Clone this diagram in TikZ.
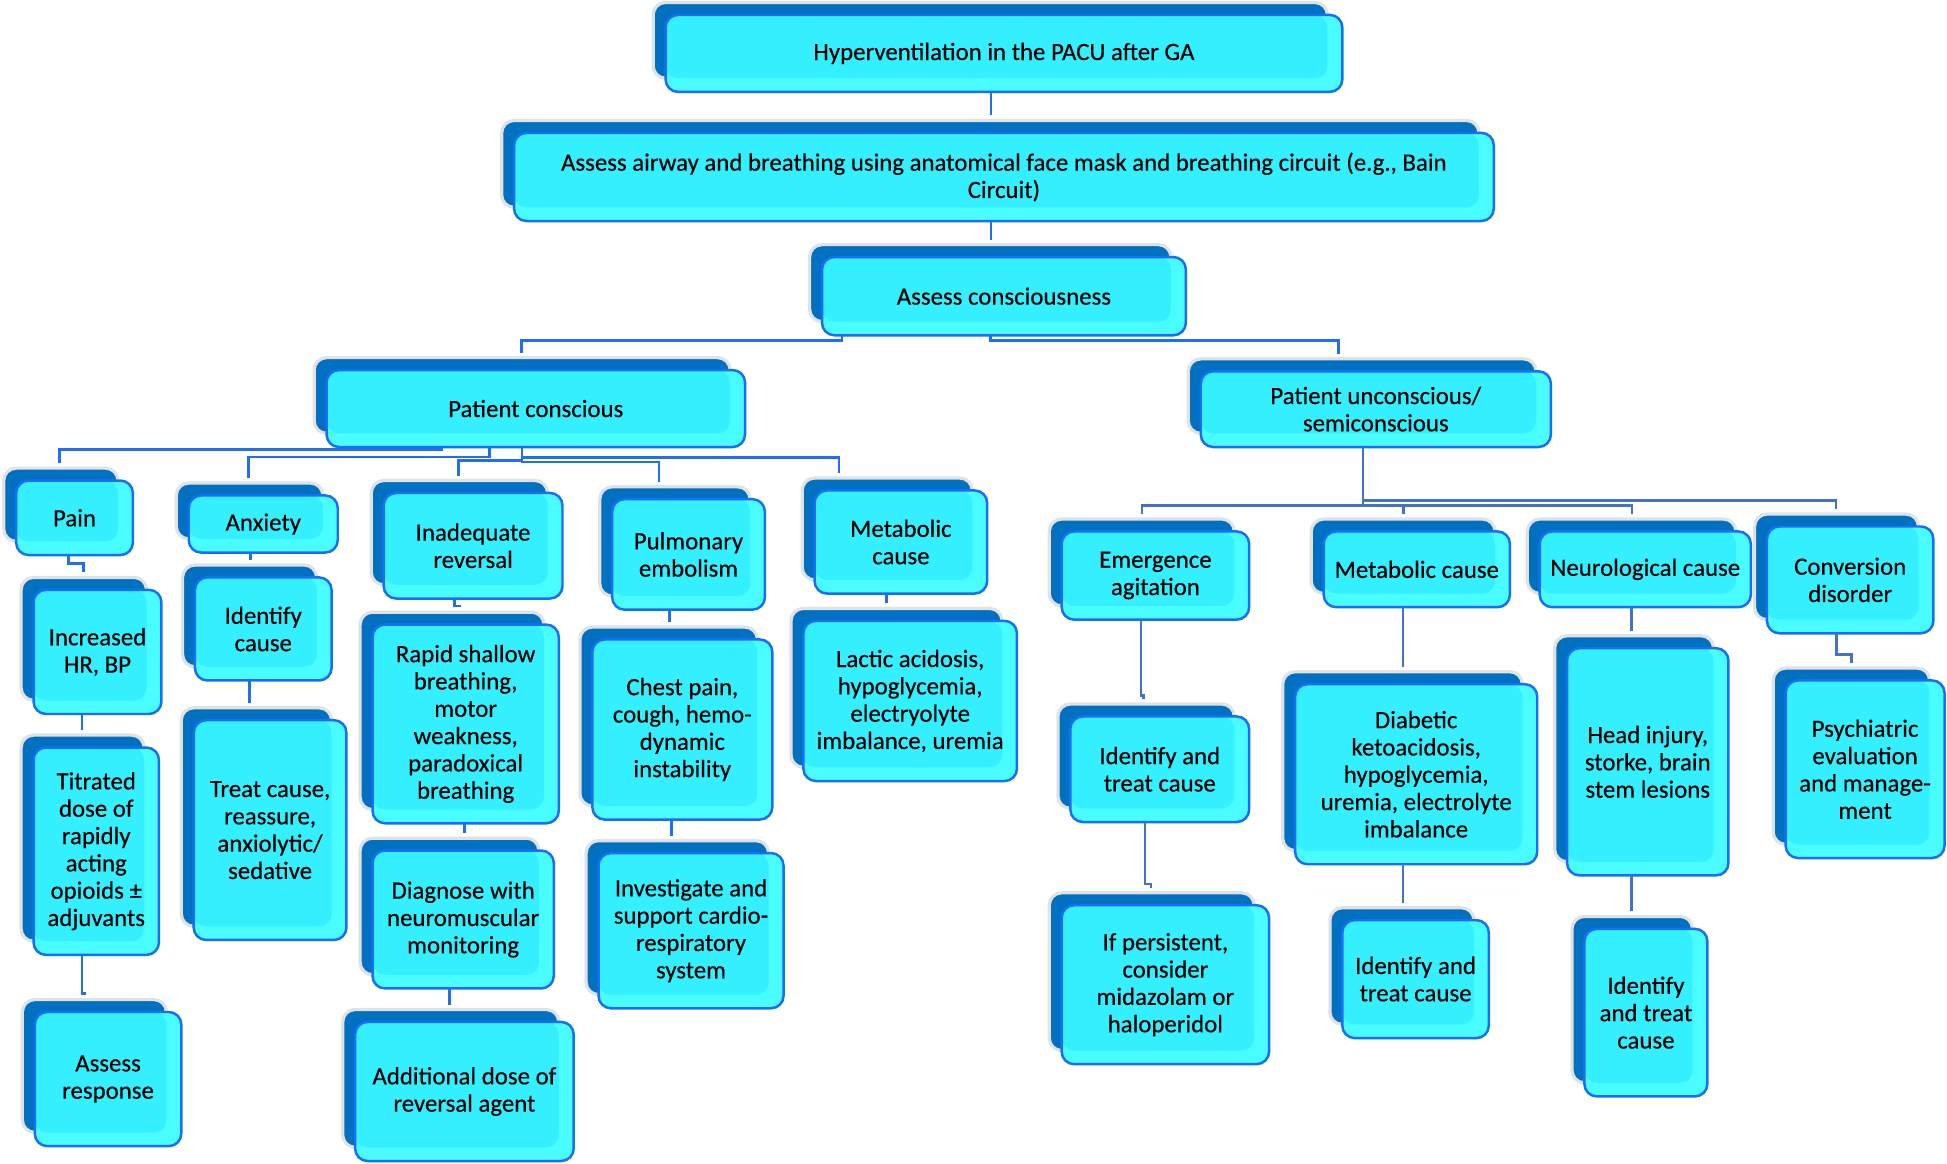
\documentclass[tikz,border=0pt]{standalone}
\usepackage{fontspec}
\setmainfont{Carlito}[FakeBold=0.35]
\definecolor{backc}{HTML}{0070C0}
\definecolor{frontc}{HTML}{34F0FF}
\definecolor{lightc}{HTML}{48FCFF}
\definecolor{borderc}{HTML}{1A6EF5}
\definecolor{lineL}{HTML}{1F6FEF}
\definecolor{lineR}{HTML}{4472C4}
\definecolor{glow}{HTML}{E2E2E2}
\tikzset{
  backbox/.style={draw=glow, line width=1.3pt, fill=backc, rounded corners=5pt, inner sep=0pt, outer sep=0pt},
  frontbox/.style={draw=borderc, line width=1pt, rounded corners=5pt, align=center, inner sep=0pt, outer sep=0pt, font=\fontsize{10}{11}\selectfont},
  connL/.style={draw=lineL, line width=1.1pt, shorten >=2pt},
  connR/.style={draw=lineR, line width=1pt, shorten >=2pt},
}
\newcommand\bx[6]{%
  \node[backbox, minimum width={(#4-#2-2)*0.5pt}, minimum height={(#5-#3-1)*0.5pt}] (#1b) at ({(#2+#4)/2-11},{(#3+#5)/2-10.5}) {};
  \fill[lightc, rounded corners=5pt] (#2,#3) rectangle (#4,#5);
  \fill[frontc, rounded corners=5pt] (#2,#3) rectangle ({#4-12},{#5-11});
  \node[frontbox, minimum width={(#4-#2)*0.5pt}, minimum height={(#5-#3)*0.5pt}] (#1) at ({(#2+#4)/2},{(#3+#5)/2}) {#6};
}
\begin{document}
\begin{tikzpicture}[x=0.5pt, y=-0.5pt]
\fill[white] (0,0) rectangle (1568,937);
\useasboundingbox (0,0) rectangle (1568,937);
% top chain
\bx{hyp}{536}{12}{1081}{74}{Hyperventilation in the PACU after GA}
\bx{air}{414}{107}{1203}{178}{Assess airway and breathing using anatomical face mask and breathing circuit (e.g., Bain\\Circuit)}
\bx{con}{662}{207}{955}{270}{Assess consciousness}
\bx{pc}{263}{298}{600}{360}{Patient conscious}
\bx{pu}{967}{299}{1249}{360}{Patient unconscious/\\semiconscious}
% left branches
\bx{pain}{13}{387}{107}{447}{Pain}
\bx{inc}{27}{475}{130}{575}{Increased\\HR, BP}
\bx{tit}{27}{602}{128}{769}{Titrated\\dose of\\rapidly\\acting\\opioids ±\\adjuvants}
\bx{ass}{28}{815}{146}{923}{Assess\\response}
\bx{anx}{152}{399}{272}{445}{Anxiety}
\bx{idc}{157}{465}{267}{548}{Identify\\cause}
\bx{treat}{156}{580}{279}{757}{Treat cause,\\reassure,\\anxiolytic/\\sedative}
\bx{inad}{309}{397}{453}{482}{Inadequate\\reversal}
\bx{rapid}{300}{503}{450}{663}{Rapid shallow\\breathing,\\motor\\weakness,\\paradoxical\\breathing}
\bx{diag}{300}{685}{446}{796}{Diagnose with\\neuromuscular\\monitoring}
\bx{add}{286}{823}{462}{935}{Additional dose of\\reversal agent}
\bx{pulm}{493}{402}{616}{491}{Pulmonary\\embolism}
\bx{chest}{477}{515}{622}{660}{Chest pain,\\cough, hemo-\\dynamic\\instability}
\bx{inv}{482}{687}{631}{812}{Investigate and\\support cardio-\\respiratory\\system}
\bx{metL}{656}{395}{795}{478}{Metabolic\\cause}
\bx{lac}{647}{500}{819}{629}{Lactic acidosis,\\hypoglycemia,\\electryolyte\\imbalance, uremia}
% right branches
\bx{em}{855}{428}{1006}{499}{Emergence\\agitation}
\bx{idE}{862}{577}{1006}{662}{Identify and\\treat cause}
\bx{ifp}{855}{729}{1022}{857}{If persistent,\\consider\\midazolam or\\haloperidol}
\bx{metR}{1066}{428}{1216}{489}{Metabolic cause}
\bx{diab}{1043}{551}{1238}{696}{Diabetic\\ketoacidosis,\\hypoglycemia,\\uremia, electrolyte\\imbalance}
\bx{idM}{1081}{741}{1199}{836}{Identify and\\treat cause}
\bx{neu}{1240}{428}{1410}{489}{Neurological cause}
\bx{head}{1262}{522}{1392}{705}{Head injury,\\storke, brain\\stem lesions}
\bx{idN}{1276}{748}{1375}{883}{Identify\\and treat\\cause}
\bx{conv}{1423}{424}{1557}{510}{Conversion\\disorder}
\bx{psy}{1438}{548}{1566}{691}{Psychiatric\\evaluation\\and manage-\\ment}
% connectors
\draw[connL] (hyp.south -| 798,0) -- (798,0 |- airb.north);
\draw[connL] (air.south -| 798,0) -- (798,0 |- conb.north);
\draw[connL] (con.south -| 678,0) |- (420,274) -- (420,0 |- pcb.north);
\draw[connL] (con.south -| 797.5,0) |- (1077.7,274.3) -- (1077.7,0 |- pub.north);
\draw[connL] (pc.south -| 356,0) |- (48,362) -- (48,0 |- painb.north);
\draw[connL] (pc.south -| 394,0) |- (200.3,368) -- (200.3,0 |- anxb.north);
\draw[connL] (pc.south -| 420.4,0) |- (369.5,371) -- (369.5,0 |- inadb.north);
\draw[connL] (pc.south -| 420.4,0) |- (530.7,372) -- (530.7,0 |- pulmb.north);
\draw[connL] (pc.south -| 420.4,0) |- (675.6,368.7) -- (675.6,0 |- metLb.north);
\draw[connL] (pain.south -| 55,0) |- (67,453.7) -- (67,0 |- incb.north);
\draw[connL] (inc.south -| 66,0) -- (66,0 |- titb.north);
\draw[connL] (tit.south -| 66,0) |- (68,800) -- (68,0 |- assb.north);
\draw[connL] (anx.south -| 202,0) -- (202,0 |- idcb.north);
\draw[connL] (idc.south -| 201,0) -- (201,0 |- treatb.north);
\draw[connL] (inad.south -| 366,0) |- (370,488) -- (370,0 |- rapidb.north);
\draw[connL] (rapid.south -| 374,0) -- (374,0 |- diagb.north);
\draw[connL] (diag.south -| 362,0) -- (362,0 |- addb.north);
\draw[connL] (pulm.south -| 539,0) -- (539,0 |- chestb.north);
\draw[connL] (chest.south -| 541,0) -- (541,0 |- invb.north);
\draw[connL] (metL.south -| 714,0) -- (714,0 |- lacb.north);
\draw[connR] (pu.south -| 1097.5,0) |- (919.6,407) -- (919.6,0 |- emb.north);
\draw[connR] (pu.south -| 1097.5,0) |- (1130.4,407) -- (1130.4,0 |- metRb.north);
\draw[connR] (pu.south -| 1097.5,0) |- (1314.4,407) -- (1314.4,0 |- neub.north);
\draw[connR] (pu.south -| 1097.5,0) |- (1478.6,403.2) -- (1478.6,0 |- convb.north);
\draw[connR] (em.south -| 919,0) |- (921,560) -- (921,0 |- idEb.north);
\draw[connR] (idE.south -| 922,0) |- (927,712) -- (927,0 |- ifpb.north);
\draw[connR] (metR.south -| 1130,0) -- (1130,0 |- diabb.north);
\draw[connR] (diab.south -| 1130,0) -- (1130,0 |- idMb.north);
\draw[connR] (neu.south -| 1314,0) -- (1314,0 |- headb.north);
\draw[connR] (head.south -| 1314,0) -- (1314,0 |- idNb.north);
\draw[connR] (conv.south -| 1479,0) |- (1491,527) -- (1491,0 |- psyb.north);
\end{tikzpicture}
\end{document}
